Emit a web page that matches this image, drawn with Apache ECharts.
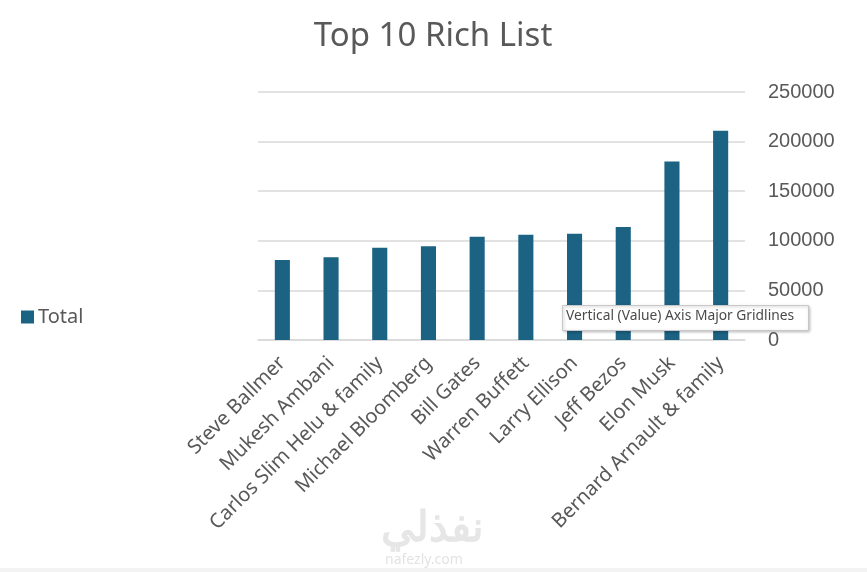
<!DOCTYPE html>
<html>
<head>
<meta charset="utf-8">
<script src="https://cdn.jsdelivr.net/npm/echarts@6/dist/echarts.min.js"></script>
<style>html,body{margin:0;padding:0;background:#fff;}#c{width:867px;height:572px;}</style>
</head>
<body>
<div id="c"></div>
<script>
const categories = ["Steve Ballmer","Mukesh Ambani","Carlos Slim Helu & family","Michael Bloomberg","Bill Gates","Warren Buffett","Larry Ellison","Jeff Bezos","Elon Musk","Bernard Arnault & family"];
const totals = [80700, 83400, 93000, 94500, 104000, 106000, 107000, 114000, 180000, 211000];
const yTicks = [0, 50000, 100000, 150000, 200000, 250000];

const chart = echarts.init(document.getElementById('c'), null, {renderer: 'canvas'});
chart.setOption({
  backgroundColor: '#ffffff',
  animation: false,
  title: {
    text: 'Top 10 Rich List',
    left: 428, top: 15, textAlign: 'center',
    textStyle: {fontFamily: 'Noto Sans', fontSize: 33, fontWeight: 'normal', color: '#595959'}
  },
  legend: {
    data: ['Total'],
    left: 16, top: 302,
    itemWidth: 13, itemHeight: 13, itemGap: 6,
    icon: 'rect',
    textStyle: {fontFamily: 'Noto Sans', fontSize: 20, color: '#595959', padding: [0,0,0,-1]}
  },
  grid: {left: 258, right: 122, top: 92, bottom: 232, containLabel: false},
  xAxis: {
    type: 'category',
    data: categories,
    axisLine: {show: true, lineStyle: {color: '#d9d9d9', width: 1.5}},
    axisTick: {show: false},
    axisLabel: {
      interval: 0, rotate: 45, margin: 20,
      fontFamily: 'Noto Sans', fontSize: 20, color: '#595959'
    }
  },
  yAxis: {
    type: 'value',
    position: 'right',
    min: yTicks[0], max: yTicks[yTicks.length - 1], interval: 50000,
    axisLine: {show: false},
    axisTick: {show: false},
    splitLine: {lineStyle: {color: '#d9d9d9', width: 1.5}},
    axisLabel: {margin: 23, fontFamily: 'Liberation Sans', fontSize: 20, color: '#595959',
      formatter: function (v) { return String(v); }}
  },
  series: [{
    name: 'Total',
    type: 'bar',
    data: totals,
    barWidth: '31%',
    z: 1,
    itemStyle: {color: '#1b6283'}
  }],
  graphic: {
    elements: [
      {type: 'rect', left: 562, top: 305, zlevel: 5, z: 100,
       shape: {width: 246, height: 25},
       style: {fill: '#ffffff', stroke: '#c8c8c8', lineWidth: 1, shadowBlur: 3, shadowOffsetX: 1, shadowOffsetY: 1, shadowColor: 'rgba(0,0,0,0.25)'}},
      {type: 'text', left: 566, top: 309, zlevel: 5, z: 101,
       style: {text: 'Vertical (Value) Axis Major Gridlines', fontFamily: 'Noto Sans', fontSize: 13.8, fill: '#4a4a4a'}},
      {type: 'text', left: 381, top: 508, z: 50,
       style: {text: 'نفذلي', fontFamily: 'Noto Sans', fontSize: 42, fontWeight: 'bold', fill: '#e6e6e6'}},
      {type: 'text', left: 385, top: 553, z: 50,
       style: {text: 'nafezly.com', fontFamily: 'Noto Sans', fontSize: 14, fill: '#e3e3e3'}},
      {type: 'rect', left: 0, top: 568, shape: {width: 867, height: 4}, style: {fill: '#f3f3f3'}, z: 40}
    ]
  }
});
</script>
</body>
</html>
